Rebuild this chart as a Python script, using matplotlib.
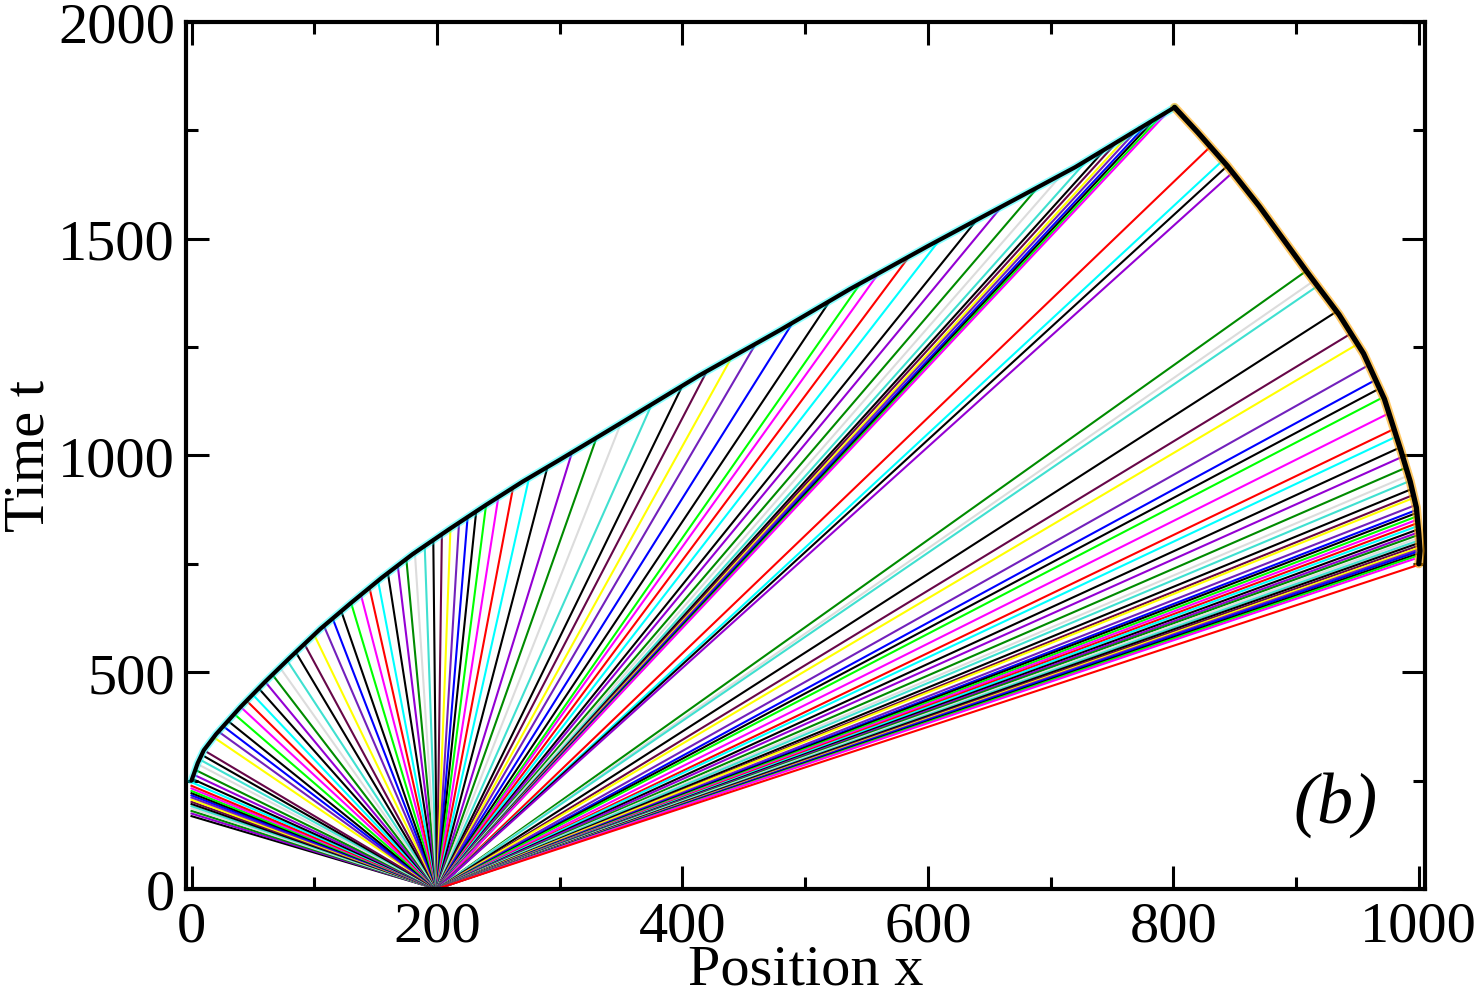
import matplotlib
matplotlib.use("Agg")
import matplotlib.pyplot as plt
from matplotlib.ticker import MultipleLocator

# ---- data (trajectory end points; all start at x=200, t=0) ----
x_start, t_start = 200, 0

# end on the left wall (x ~ 0)
xa = [0, 0, 0, 0, 0, 0, 0, 0, 0, 0, 0, 0, 0, 0, 1, 2, 3, 5, 7, 9, 11, 13]
ta = [168, 174, 180, 186, 191, 196, 201, 206, 211, 216, 221, 226, 232, 238, 245, 252, 262, 272, 285, 295, 305, 315]

# end on the upper-left boundary
xb = [18, 22, 26, 30, 35, 40, 45, 50, 55, 60, 66, 72, 78, 85, 92, 100, 108, 115, 122, 130,
      138, 145, 152, 160, 168, 175, 182, 190, 197, 204, 211, 218, 225, 232, 240, 250, 262,
      275, 290, 310, 330, 350, 375, 400, 420]
tb = [350, 363, 375, 387, 403, 420, 434, 448, 462, 478, 494, 511, 527, 546, 565, 586, 606, 624, 641, 660,
      679, 695, 711, 729, 747, 762, 776, 792, 806, 819, 833, 846, 859, 872, 886, 904, 926,
      948, 973, 1007, 1041, 1075, 1118, 1161, 1195]

# end on the upper boundary
xc = [440, 460, 490, 520, 545, 560, 585, 610, 640, 660, 690, 710, 730, 745, 755, 765, 772, 780, 786, 792, 797]
tc = [1226, 1259, 1307, 1356, 1397, 1421, 1460, 1499, 1544, 1574, 1620, 1651, 1682, 1708, 1726, 1744, 1756,
      1769, 1779, 1789, 1797]

# end on the right boundary
xd = [830, 840, 844, 848, 908, 914, 917, 933, 944, 949, 957, 962, 965, 968, 974, 979, 979, 982, 985, 988,
      990, 990, 992, 993, 993, 995, 996, 996, 997, 997, 998, 998, 999, 999, 999, 1000, 1000, 1000, 1000,
      1000, 999, 998, 998, 997, 996, 998]
td = [1712, 1680, 1668, 1652, 1425, 1402, 1390, 1332, 1280, 1255, 1205, 1170, 1150, 1130, 1095, 1060, 1040,
      1015, 995, 970, 952, 938, 920, 906, 899, 883, 872, 865, 858, 850, 843, 836, 829, 822, 816, 810, 804,
      798, 792, 787, 782, 777, 772, 767, 761, 746]

# boundaries
bx_left = [0, 5, 10, 20, 40, 60, 80, 105, 130, 155, 180, 210, 240, 270, 300, 350, 414, 480, 536, 600, 656, 720, 801]
bt_left = [250, 290, 320, 357, 420, 478, 533, 600, 660, 718, 772, 830, 886, 940, 990, 1075, 1185, 1290, 1383,
           1483, 1568, 1665, 1803]
bx_right = [801, 820, 844, 870, 909, 935, 955, 972, 985, 993, 998, 1000, 1001, 1000]
bt_right = [1803, 1745, 1668, 1575, 1423, 1325, 1235, 1130, 1015, 940, 880, 820, 780, 750]

xticks = [0, 200, 400, 600, 800, 1000]
yticks = [0, 500, 1000, 1500, 2000]

# ---- styling ----
palette = ["#000000", "#ff0000", "#00ff00", "#0000ff", "#ffff00", "#bc8f8f", "#dcdcdc",
           "#9400d3", "#00ffff", "#ff00ff", "#ffa500", "#7221bc", "#670748", "#40e0d0", "#008b00"]

plt.rcParams["font.family"] = ["Liberation Serif", "DejaVu Serif"]

fig = plt.figure(figsize=(14.82, 10.03), dpi=100)
ax = fig.add_axes([0.1255, 0.1127, 0.8360, 0.8644])

ends_x = xa + xb + xc + xd
ends_t = ta + tb + tc + td
for i, (xe, te) in enumerate(zip(ends_x, ends_t)):
    col = palette[0] if i % 5 == 0 else palette[(7 * i) % 15]
    ax.plot([x_start, xe], [t_start, te], color=col, lw=1.5, zorder=2)

ax.plot(bx_left, bt_left, color="#00ffff", lw=5.5, alpha=0.45, zorder=3, solid_capstyle="round")
ax.plot(bx_left, bt_left, color="black", lw=3, zorder=4, solid_capstyle="round", solid_joinstyle="round")
ax.plot(bx_right, bt_right, color="#ffa500", lw=6.5, alpha=0.6, zorder=3, solid_capstyle="round")
ax.plot(bx_right, bt_right, color="black", lw=3.8, zorder=4, solid_capstyle="round", solid_joinstyle="round")

ax.set_xlim(-4.5, 1005)
ax.set_ylim(0, 2000)
ax.set_xticks(xticks)
ax.set_yticks(yticks)
ax.xaxis.set_minor_locator(MultipleLocator(100))
ax.yaxis.set_minor_locator(MultipleLocator(250))
ax.tick_params(which="both", direction="in", top=True, right=True, labelsize=42, width=2.2)
ax.tick_params(which="major", length=16.5, pad=8)
ax.tick_params(which="minor", length=8.5)
for s in ax.spines.values():
    s.set_linewidth(3)

ax.set_xlabel("Position x", fontsize=42, labelpad=-6)
ax.set_ylabel("Time t", fontsize=42, labelpad=2)
ax.text(932, 196, "(b)", fontsize=52, style="italic", ha="center", va="center")

fig.savefig("out.png", dpi=100)
